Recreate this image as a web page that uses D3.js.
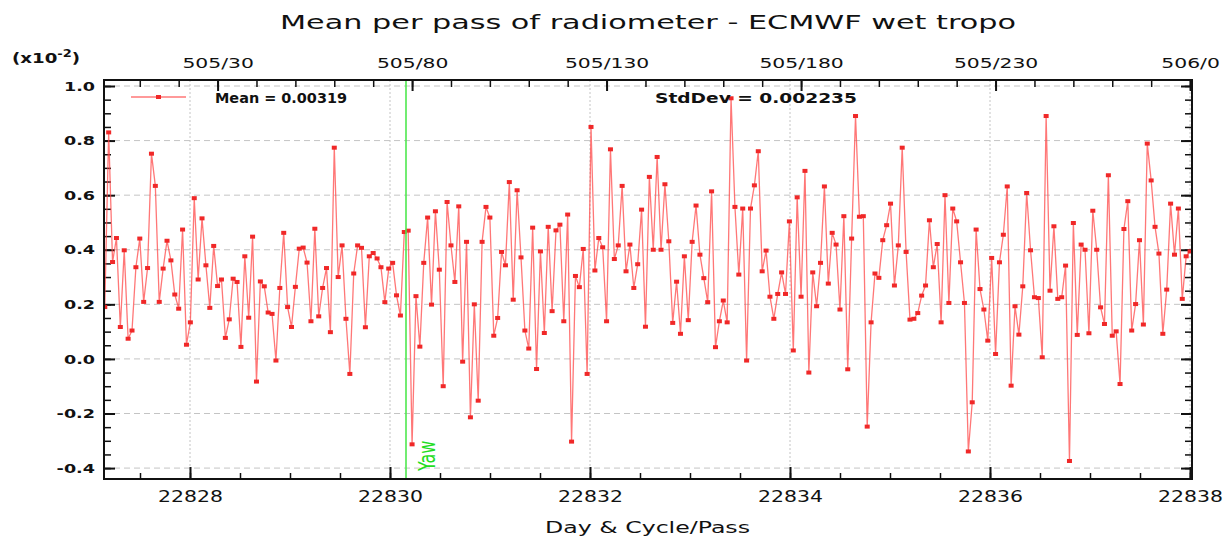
<html>
<head>
<title>Mean per pass of radiometer - ECMWF wet tropo</title>
<style>
  body { margin: 0; background: #fff; }
  text { font-family: "DejaVu Sans", sans-serif; fill: #111; }
</style>
</head>
<body>
<script src="https://d3js.org/d3.v7.min.js"></script>
<script>
// values in units of 1e-2, one per pass (505/1 ... 506/26)
var firstPass = 1;
var meanValues = [
  0.19, 0.83, 0.355, 0.443, 0.117, 0.398, 0.074, 0.104, 0.336, 0.441,
  0.209, 0.333, 0.752, 0.634, 0.209, 0.331, 0.433, 0.361, 0.236, 0.184,
  0.474, 0.052, 0.134, 0.589, 0.291, 0.515, 0.343, 0.187, 0.414, 0.267,
  0.291, 0.077, 0.145, 0.294, 0.282, 0.044, 0.376, 0.151, 0.448, -0.083,
  0.284, 0.266, 0.170, 0.165, -0.006, 0.260, 0.462, 0.190, 0.117, 0.264,
  0.404,
  0.408, 0.353, 0.138, 0.477, 0.156, 0.260, 0.333, 0.098, 0.774, 0.300,
  0.416, 0.147, -0.055, 0.313, 0.416, 0.407, 0.116, 0.376, 0.388, 0.368,
  0.336, 0.208, 0.331, 0.352, 0.233, 0.159, 0.465, 0.470, -0.313, 0.230,
  0.045, 0.352, 0.518, 0.199, 0.541, 0.327, -0.100, 0.575, 0.416, 0.282,
  0.559, -0.010, 0.429, -0.214, 0.200, -0.153, 0.429, 0.557, 0.518,
  0.085, 0.150, 0.392, 0.343, 0.648, 0.217, 0.618, 0.372, 0.104, 0.038,
  0.481, -0.037, 0.394, 0.095, 0.484, 0.175, 0.471, 0.492, 0.138, 0.529,
  -0.303, 0.304, 0.263, 0.403, -0.055, 0.850, 0.324, 0.443, 0.409, 0.138,
  0.768, 0.366, 0.416, 0.634, 0.321, 0.419, 0.260, 0.347, 0.547, 0.118,
  0.667, 0.400, 0.740, 0.400, 0.640, 0.431, 0.132, 0.283, 0.092,
  0.376, 0.142, 0.429, 0.562, 0.382, 0.296, 0.208, 0.614, 0.043, 0.138,
  0.214, 0.134, 0.955, 0.557, 0.309, 0.551, -0.006, 0.551, 0.636, 0.761,
  0.321, 0.397, 0.228, 0.147, 0.238, 0.317, 0.238, 0.504, 0.031, 0.592,
  0.228, 0.689, -0.050, 0.317, 0.193, 0.352, 0.632, 0.276, 0.462, 0.419,
  0.181, 0.523, -0.038, 0.441, 0.890, 0.521, 0.523, -0.248,
  0.134, 0.313, 0.297, 0.435, 0.490, 0.569, 0.269, 0.416, 0.774, 0.392,
  0.144, 0.147, 0.168, 0.232, 0.269, 0.508, 0.336, 0.421, 0.134, 0.600,
  0.205, 0.551, 0.504, 0.354, 0.205, -0.339, -0.159, 0.474, 0.256, 0.181,
  0.067, 0.370, 0.018, 0.354, 0.455, 0.632, -0.098, 0.193, 0.089, 0.266,
  0.608, 0.398, 0.226, 0.223, 0.006, 0.890, 0.250, 0.486, 0.220,
  0.226, 0.342, -0.374, 0.498, 0.088, 0.419, 0.400, 0.094, 0.543, 0.400,
  0.189, 0.128, 0.673, 0.085, 0.101, -0.092, 0.476, 0.578, 0.104, 0.201,
  0.435, 0.126, 0.789, 0.654, 0.484, 0.386, 0.092, 0.254, 0.569, 0.382,
  0.551, 0.220, 0.376, 0.394
];
var dayTicks = [22828, 22830, 22832, 22834, 22836, 22838];
var passTicks = [30, 80, 130, 180, 230, 280];
var passLabels = ["505/30", "505/80", "505/130", "505/180", "505/230", "506/0"];
var yTicks = [-0.4, -0.2, 0.0, 0.2, 0.4, 0.6, 0.8, 1.0];
var yawDay = 22830.16;
var meanLabel = "Mean = 0.00319";
var stdLabel = "StdDev = 0.002235";

var pLeft = 104, pTop = 80, pRight = 1192, pBottom = 479;
var svg = d3.select("body").append("svg")
    .attr("width", 1224).attr("height", 538);

var xDay = d3.scaleLinear().domain([22827.14, 22838.02]).range([pLeft, pRight]);
var xPass = d3.scaleLinear().domain([0.8, 280.5]).range([pLeft, pRight]);
var y = d3.scaleLinear().domain([-0.44, 1.022]).range([pBottom, pTop]);

// stretch text horizontally like the original picture
function stretch(sel, k) {
    sel.each(function() {
        var w = this.getComputedTextLength();
        d3.select(this).attr("textLength", w * k).attr("lengthAdjust", "spacingAndGlyphs");
    });
}

// grid
svg.append("g").selectAll("line").data(yTicks).enter().append("line")
   .attr("x1", pLeft).attr("x2", pRight)
   .attr("y1", function(d){ return y(d); }).attr("y2", function(d){ return y(d); })
   .style("stroke", "#c4c4c4").style("stroke-dasharray", "6,4");
svg.append("g").selectAll("line").data(dayTicks).enter().append("line")
   .attr("x1", function(d){ return xDay(d); }).attr("x2", function(d){ return xDay(d); })
   .attr("y1", pTop).attr("y2", pBottom)
   .style("stroke", "#c4c4c4").style("stroke-dasharray", "2,2");

// minor ticks
function minor(axis, vals, size, tr) {
    var g = svg.append("g").attr("transform", tr)
        .call(axis.tickValues(vals).tickSize(size).tickFormat(""));
    g.select(".domain").remove();
    g.selectAll("line").style("stroke", "#111").style("stroke-width", 1.5);
    return g;
}
var yMinor = d3.range(-0.4, 1.0001, 0.05);
minor(d3.axisLeft(y), yMinor, -7, "translate(" + pLeft + ",0)");
minor(d3.axisRight(y), yMinor, -7, "translate(" + pRight + ",0)");
minor(d3.axisBottom(xDay), d3.range(22827.5, 22838.01, 0.5), -6, "translate(0," + pBottom + ")");
minor(d3.axisTop(xPass), d3.range(10, 281, 10), -7, "translate(0," + pTop + ")");

// major axes
var gl = svg.append("g").attr("transform", "translate(" + pLeft + ",0)")
    .call(d3.axisLeft(y).tickValues(yTicks).tickSize(-11).tickPadding(9)
          .tickFormat(function(d){ return d.toFixed(1); }));
var gr = svg.append("g").attr("transform", "translate(" + pRight + ",0)")
    .call(d3.axisRight(y).tickValues(yTicks).tickSize(-11).tickFormat(""));
var gb = svg.append("g").attr("transform", "translate(0," + pBottom + ")")
    .call(d3.axisBottom(xDay).tickValues(dayTicks).tickSize(-12).tickPadding(12)
          .tickFormat(function(d){ return d; }));
var gt = svg.append("g").attr("transform", "translate(0," + pTop + ")")
    .call(d3.axisTop(xPass).tickValues(passTicks).tickSize(-11).tickPadding(12)
          .tickFormat(function(d, i){ return passLabels[i]; }));
[gl, gr, gb, gt].forEach(function(g){
    g.select(".domain").remove();
    g.selectAll("line").style("stroke", "#111").style("stroke-width", 2);
});
gl.selectAll("text").style("font-size", "13px").style("font-weight", "bold")
  .style("font-family", "DejaVu Sans").style("fill", "#111").call(stretch, 1.35);
gb.selectAll("text").style("font-size", "15px")
  .style("font-family", "DejaVu Sans").style("fill", "#111").call(stretch, 1.36);
gt.selectAll("text").style("font-size", "14px")
  .style("font-family", "DejaVu Sans").style("fill", "#111").call(stretch, 1.45);

// data
svg.append("clipPath").attr("id", "plot").append("rect")
   .attr("x", pLeft).attr("y", pTop).attr("width", pRight - pLeft).attr("height", pBottom - pTop);
var line = d3.line()
    .x(function(d, i){ return xPass(firstPass + i); })
    .y(function(d){ return y(d); });
var plot = svg.append("g").attr("clip-path", "url(#plot)");
plot.append("path").datum(meanValues).attr("d", line)
    .style("fill", "none").style("stroke", "#ff4a4a").style("stroke-opacity", 0.75)
    .style("stroke-width", 1.3);
plot.selectAll("rect").data(meanValues).enter().append("rect")
    .attr("x", function(d, i){ return xPass(firstPass + i) - 2.5; })
    .attr("y", function(d){ return y(d) - 2; })
    .attr("width", 5).attr("height", 4)
    .style("fill", "#f02828");

// yaw marker
svg.append("line")
   .attr("x1", xDay(yawDay)).attr("x2", xDay(yawDay)).attr("y1", pTop).attr("y2", pBottom)
   .style("stroke", "#4ee84e").style("stroke-width", 1.6);
svg.append("text")
   .attr("transform", "translate(" + (xDay(yawDay) + 29) + ",471) scale(1.45,1) rotate(-90)")
   .style("font-size", "16px").style("fill", "#22dd22").text("Yaw");

// frame
svg.append("rect").attr("x", pLeft).attr("y", pTop)
   .attr("width", pRight - pLeft).attr("height", pBottom - pTop)
   .style("fill", "none").style("stroke", "#111").style("stroke-width", 2);

// legend
svg.append("line").attr("x1", 131).attr("x2", 186).attr("y1", 97).attr("y2", 97)
   .style("stroke", "#ff4a4a").style("stroke-opacity", 0.75).style("stroke-width", 1.3);
svg.append("rect").attr("x", 156).attr("y", 95).attr("width", 5).attr("height", 4)
   .style("fill", "#f02828");
svg.append("text").attr("x", 215).attr("y", 103).style("font-size", "14px")
   .style("font-weight", "bold").attr("textLength", 132).attr("lengthAdjust", "spacingAndGlyphs")
   .text(meanLabel);
svg.append("text").attr("x", 655).attr("y", 103).style("font-size", "14px")
   .style("font-weight", "bold").attr("textLength", 202).attr("lengthAdjust", "spacingAndGlyphs")
   .text(stdLabel);

// titles
svg.append("text").attr("x", 280).attr("y", 29).style("font-size", "19px")
   .attr("textLength", 736).attr("lengthAdjust", "spacingAndGlyphs")
   .text("Mean per pass of radiometer - ECMWF wet tropo");
svg.append("text").attr("x", 545).attr("y", 533).style("font-size", "16px")
   .attr("textLength", 205).attr("lengthAdjust", "spacingAndGlyphs")
   .text("Day & Cycle/Pass");
var sc = svg.append("text").attr("transform", "translate(12,63) scale(1.3,1)")
   .style("font-size", "14px").style("font-weight", "bold");
sc.append("tspan").text("(x10");
sc.append("tspan").attr("dy", -6).style("font-size", "10px").text("-2");
sc.append("tspan").attr("dy", 6).text(")");
</script>
</body>
</html>
